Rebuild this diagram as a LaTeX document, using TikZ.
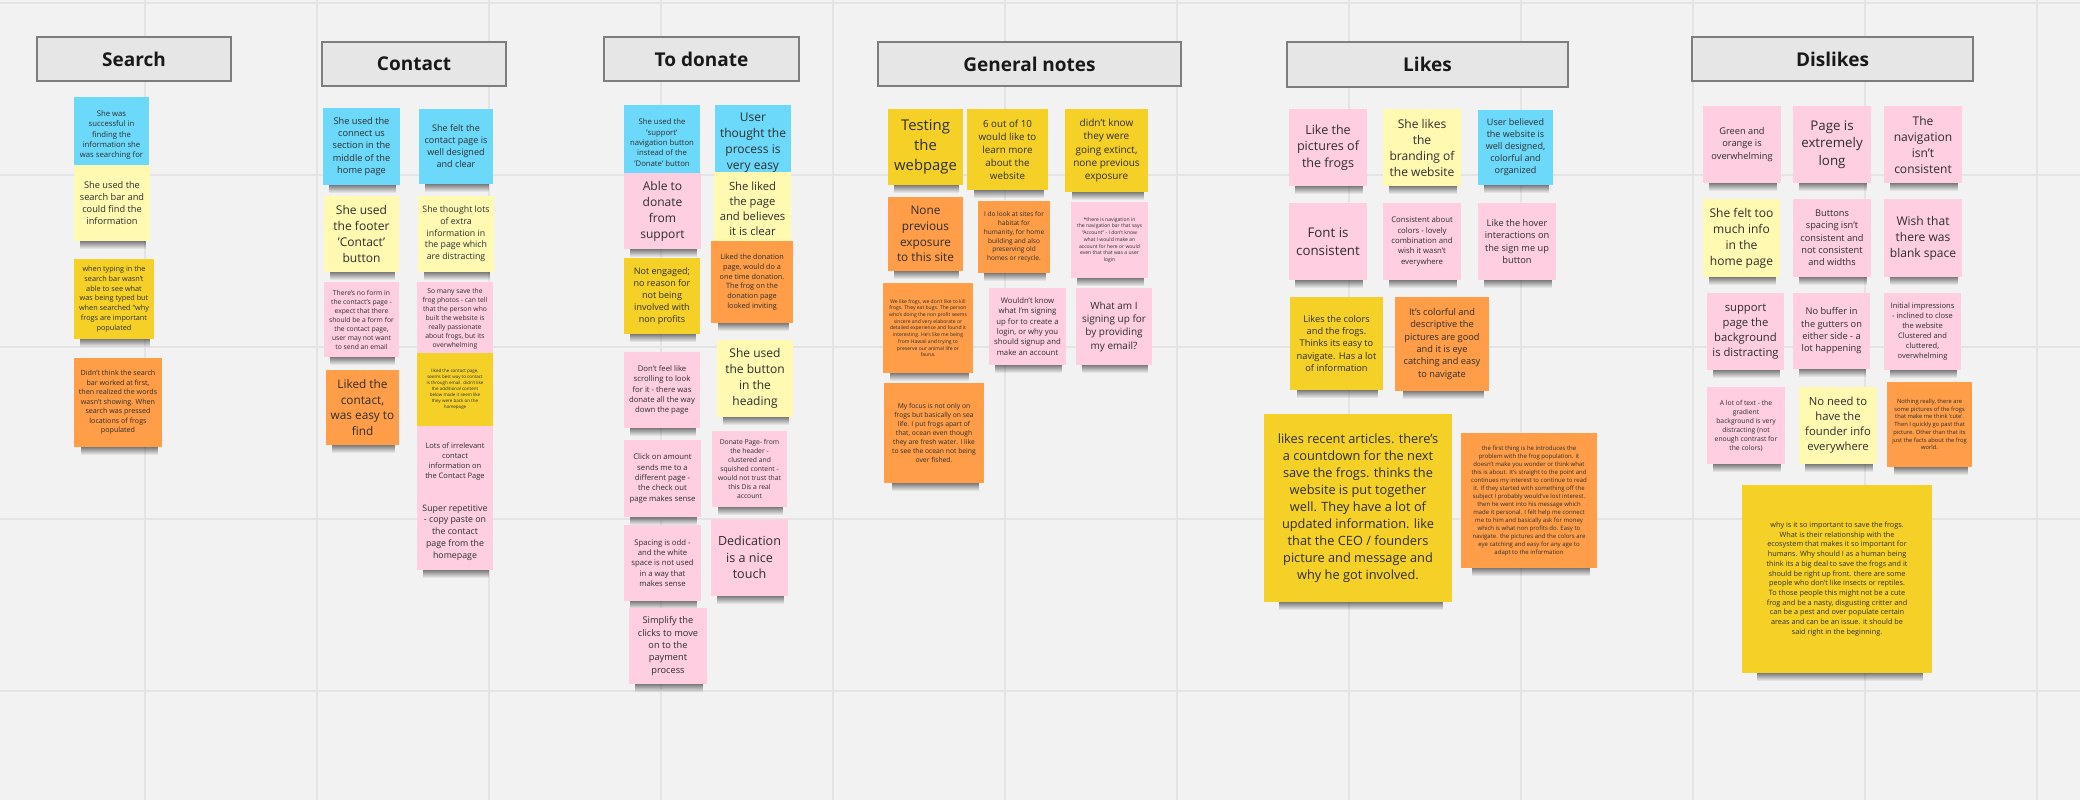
\documentclass[tikz,border=0pt]{standalone}
\usepackage{fontspec}
\setmainfont{Open Sans}
\usetikzlibrary{fadings}
\definecolor{bgc}{HTML}{F2F2F2}
\definecolor{gridc}{HTML}{E4E4E4}
\definecolor{hdrfill}{HTML}{E6E6E6}
\definecolor{hdrline}{HTML}{7D7D7D}
\definecolor{txt}{HTML}{2E2E2E}
\definecolor{cblue}{HTML}{6CD8FA}
\definecolor{cly}{HTML}{FFF9B1}
\definecolor{cdy}{HTML}{F5D128}
\definecolor{corange}{HTML}{FF9D48}
\definecolor{cpink}{HTML}{FFCEE0}
\pgfdeclarelayer{gridlayer}
\pgfdeclarelayer{shadowlayer}
\pgfsetlayers{gridlayer,shadowlayer,main}
\newcommand\fs[1]{\pgfmathsetmacro\fsa{#1*0.5/1.33}\pgfmathsetmacro\fsb{#1*0.5}\fontsize{\fsa pt}{\fsb pt}\selectfont}
\tikzset{
  notebox/.style={inner sep=0pt, outer sep=0pt, align=center, text=txt},
  hdrbox/.style={fill=hdrfill, draw=hdrline, line width=1pt, inner sep=0pt, text=black!90, font=\fontsize{9.5pt}{11pt}\selectfont\bfseries},
  shadowband/.style={fill=black, opacity=0.55, path fading=south},
  gridline/.style={draw=gridc, line width=1.3pt}
}
% #1 name #2 x1 #3 y1 #4 x2 #5 y2 #6 colour #7 line pitch (px) #8 text
\newcommand\note[8]{%
  \begin{pgfonlayer}{shadowlayer}
    \fill[shadowband] ({#2+0.08*(#4-#2)},{#5-1}) rectangle ({#4-0.05*(#4-#2)},{#5+8});
  \end{pgfonlayer}
  \pgfmathsetmacro\nw{(#4-#2)*0.5}\pgfmathsetmacro\nh{(#5-#3)*0.5}%
  \node[notebox, fill=#6, minimum width=\nw pt, minimum height=\nh pt, font=\fs{#7}] (#1) at ({(#2+#4)/2},{(#3+#5)/2}) {#8};
}
\newcommand\header[6]{%
  \pgfmathsetmacro\nw{(#4-#2)*0.5}\pgfmathsetmacro\nh{(#5-#3)*0.5}%
  \node[hdrbox, minimum width=\nw pt, minimum height=\nh pt] (#1) at ({(#2+#4)/2},{(#3+#5)/2}) {#6};
}
\begin{document}
\begin{tikzpicture}[x=0.5pt,y=-0.5pt]
\useasboundingbox (0,0) rectangle (2080,800);
\begin{pgfonlayer}{gridlayer}
\fill[bgc] (0,0) rectangle (2080,800);
\foreach \gx in {145,317,489,661,833,1005,1177,1349,1521,1693,1865,2037}
  \draw[gridline] (\gx,0) -- (\gx,800);
\foreach \gy in {3,175,347,519,691}
  \draw[gridline] (0,\gy) -- (2080,\gy);
\end{pgfonlayer}

% headers
\header{hsearch}{37}{37}{231}{81}{Search}
\header{hcontact}{322}{42}{506}{86}{Contact}
\header{hdonate}{604}{37}{799}{81}{To donate}
\header{hgeneral}{878}{42}{1181}{86}{General notes}
\header{hlikes}{1287}{42}{1568}{87}{Likes}
\header{hdislikes}{1692}{37}{1973}{81}{Dislikes}

% Search
\note{s1}{74}{97}{149}{173}{cblue}{10.3}{She was\\successful in\\finding the\\information she\\was searching for}
\note{s2}{74}{165}{150}{241}{cly}{12.3}{She used the\\search bar and\\could find the\\information}
\note{s3}{74}{259}{154}{339}{cdy}{9.7}{when typing in the\\search bar wasn't\\able to see what\\was being typed but\\when searched ``why\\frogs are important\\populated}
\note{s4}{74}{358}{162}{447}{corange}{9.5}{Didn't think the search\\bar worked at first,\\then realized the words\\wasn't showing. When\\search was pressed\\locations of frogs\\populated}

% Contact
\note{c1}{323}{108}{400}{185}{cblue}{12.3}{She used the\\connect us\\section in the\\middle of the\\home page}
\note{c2}{419}{109}{493}{184}{cblue}{12}{She felt the\\contact page is\\well designed\\and clear}
\note{c3}{324}{196}{399}{272}{cly}{16}{She used\\the footer\\'Contact'\\button}
\note{c4}{418}{196}{494}{272}{cly}{11.7}{She thought lots\\of extra\\information in\\the page which\\are distracting}
\note{c5}{324}{282}{399}{357}{cpink}{9}{There's no form in\\the contact's page -\\expect that there\\should be a form for\\the contact page,\\user may not want\\to send an email}
\note{c6}{417}{282}{493}{356}{cpink}{9}{So many save the\\frog photos - can tell\\that the person who\\built the website is\\really passionate\\about frogs, but its\\overwhelming}
\note{c7}{417}{353}{493}{426}{cdy}{6}{liked the contact page,\\seems best way to contact\\is through email. didn't like\\the additional content\\below made it seem like\\they were back on the\\homepage}
\note{c8}{417}{426}{493}{497}{cpink}{10}{Lots of irrelevant\\contact\\information on\\the Contact Page}
\note{c9}{417}{495}{493}{570}{cpink}{11.7}{Super repetitive\\- copy paste on\\the contact\\page from the\\homepage}
\note{c10}{326}{370}{399}{445}{corange}{15.7}{Liked the\\contact,\\was easy to\\find}

% To donate
\note{d1}{624}{105}{700}{180}{cblue}{10.3}{She used the\\'support'\\navigation button\\instead of the\\'Donate' button}
\note{d2}{715}{105}{791}{180}{cblue}{16}{User\\thought the\\process is\\very easy}
\note{d3}{624}{173}{701}{249}{cpink}{16}{Able to\\donate\\from\\support}
\note{d4}{714}{172}{791}{245}{cly}{15}{She liked\\the page\\and believes\\it is clear}
\note{d5}{711}{241}{793}{323}{corange}{9.7}{Liked the donation\\page, would do a\\one time donation.\\The frog on the\\donation page\\looked inviting}
\note{d6}{624}{258}{700}{334}{cdy}{12}{Not engaged;\\no reason for\\not being\\involved with\\non profits}
\note{d7}{717}{340}{793}{417}{cly}{16}{She used\\the button\\in the\\heading}
\note{d8}{624}{352}{700}{428}{cpink}{10.3}{Don't feel like\\scrolling to look\\for it - there was\\donate all the way\\down the page}
\note{d9}{624}{440}{701}{517}{cpink}{10.3}{Click on amount\\sends me to a\\different page -\\the check out\\page makes sense}
\note{d10}{712}{431}{787}{507}{cpink}{9}{Donate Page- from\\the header -\\clustered and\\squished content -\\would not trust that\\this Dis a real\\account}
\note{d11}{624}{525}{701}{601}{cpink}{10.3}{Spacing is odd -\\and the white\\space is not used\\in a way that\\makes sense}
\note{d12}{711}{519}{788}{596}{cpink}{16.7}{Dedication\\is a nice\\touch}
\note{d13}{629}{608}{707}{684}{cpink}{12.3}{Simplify the\\clicks to move\\on to the\\payment\\process}

% General notes
\note{g1}{888}{109}{963}{185}{cdy}{19.7}{Testing\\the\\webpage}
\note{g2}{967}{109}{1048}{190}{cdy}{13}{6 out of 10\\would like to\\learn more\\about the\\website}
\note{g3}{1065}{109}{1148}{192}{cdy}{13.3}{didn't know\\they were\\going extinct,\\none previous\\exposure}
\note{g4}{888}{197}{963}{271}{corange}{15.7}{None\\previous\\exposure\\to this site}
\note{g5}{978}{201}{1050}{273}{corange}{8.7}{I do look at sites for\\habitat for\\humanity, for home\\building and also\\preserving old\\homes or recycle.}
\note{g6}{1071}{202}{1148}{278}{cpink}{6.7}{*there is navigation in\\the navigation bar that says\\``Account'' - I don't know\\what I would make an\\account for here or would\\even that that was a user\\login}
\note{g7}{883}{283}{973}{373}{corange}{6.7}{We like frogs, we don't like to kill\\frogs. They eat bugs. The person\\who's doing the non profit seems\\sincere and very elaborate or\\detailed experience and found it\\interesting. He's like me being\\from Hawaii and trying to\\preserve our animal life or\\fauna.}
\note{g8}{989}{288}{1066}{365}{cpink}{10.3}{Wouldn't know\\what I'm signing\\up for to create a\\login, or why you\\should signup and\\make an account}
\note{g9}{1076}{288}{1152}{365}{cpink}{13.3}{What am I\\signing up for\\by providing\\my email?}
\note{g10}{884}{383}{984}{483}{corange}{9}{My focus is not only on\\frogs but basically on sea\\life. I put frogs apart of\\that, ocean even though\\they are fresh water. I like\\to see the ocean not being\\over fished.}

% Likes
\note{l1}{1289}{109}{1367}{186}{cpink}{16.7}{Like the\\pictures of\\the frogs}
\note{l2}{1383}{109}{1461}{186}{cly}{16}{She likes\\the\\branding of\\the website}
\note{l3}{1478}{110}{1553}{185}{cblue}{12}{User believed\\the website is\\well designed,\\colorful and\\organized}
\note{l4}{1289}{203}{1367}{280}{cpink}{17.7}{Font is\\consistent}
\note{l5}{1383}{203}{1461}{280}{cpink}{10.3}{Consistent about\\colors - lovely\\combination and\\wish it wasn't\\everywhere}
\note{l6}{1478}{203}{1556}{280}{cpink}{12.3}{Like the hover\\interactions on\\the sign me up\\button}
\note{l7}{1290}{297}{1383}{390}{cdy}{12.3}{Likes the colors\\and the frogs.\\Thinks its easy to\\navigate. Has a lot\\of information}
\note{l8}{1395}{297}{1489}{391}{corange}{12.3}{It's colorful and\\descriptive the\\pictures are good\\and it is eye\\catching and easy\\to navigate}
\note{l9}{1264}{414}{1452}{602}{cdy}{17}{likes recent articles. there's\\a countdown for the next\\save the frogs. thinks the\\website is put together\\well. They have a lot of\\updated information. like\\that the CEO / founders\\picture and message and\\why he got involved.}
\note{l10}{1461}{433}{1597}{568}{corange}{8}{the first thing is he introduces the\\problem with the frog population. it\\doesn't make you wonder or think what\\this is about. It's straight to the point and\\continues my interest to continue to read\\it. If they started with something off the\\subject I probably would've lost interest.\\then he went into his message which\\made it personal. I felt help me connect\\me to him and basically ask for money\\which is what non profits do. Easy to\\navigate. the pictures and the colors are\\eye catching and easy for any age to\\adapt to the information}

% Dislikes
\note{x1}{1703}{106}{1781}{183}{cpink}{12.3}{Green and\\orange is\\overwhelming}
\note{x2}{1793}{106}{1871}{183}{cpink}{17.7}{Page is\\extremely\\long}
\note{x3}{1884}{106}{1962}{183}{cpink}{16}{The\\navigation\\isn't\\consistent}
\note{x4}{1703}{199}{1780}{277}{cly}{16}{She felt too\\much info\\in the\\home page}
\note{x5}{1793}{199}{1871}{277}{cpink}{12.3}{Buttons\\spacing isn't\\consistent and\\not consistent\\and widths}
\note{x6}{1884}{199}{1962}{277}{cpink}{16}{Wish that\\there was\\blank space}
\note{x7}{1707}{293}{1784}{370}{cpink}{15}{support\\page the\\background\\is distracting}
\note{x8}{1793}{293}{1870}{369}{cpink}{12.3}{No buffer in\\the gutters on\\either side - a\\lot happening}
\note{x9}{1884}{293}{1961}{370}{cpink}{10}{Initial impressions\\- inclined to close\\the website\\Clustered and\\cluttered,\\overwhelming}
\note{x10}{1707}{387}{1785}{464}{cpink}{9}{A lot of text - the\\gradient\\background is very\\distracting (not\\enough contrast for\\the colors)}
\note{x11}{1799}{387}{1877}{464}{cly}{15}{No need to\\have the\\founder info\\everywhere}
\note{x12}{1887}{382}{1972}{467}{corange}{7.7}{Nothing really, there are\\some pictures of the frogs\\that make me think 'cute'.\\Then I quickly go past that\\picture. Other than that its\\just the facts about the frog\\world.}
\note{x13}{1742}{485}{1932}{673}{cdy}{9.7}{why is it so important to save the frogs.\\What is their relationship with the\\ecosystem that makes it so important for\\humans. Why should I as a human being\\think its a big deal to save the frogs and it\\should be right up front. there are some\\people who don't like insects or reptiles.\\To those people this might not be a cute\\frog and be a nasty, disgusting critter and\\can be a pest and over populate certain\\areas and can be an issue. it should be\\said right in the beginning.}
\end{tikzpicture}
\end{document}
